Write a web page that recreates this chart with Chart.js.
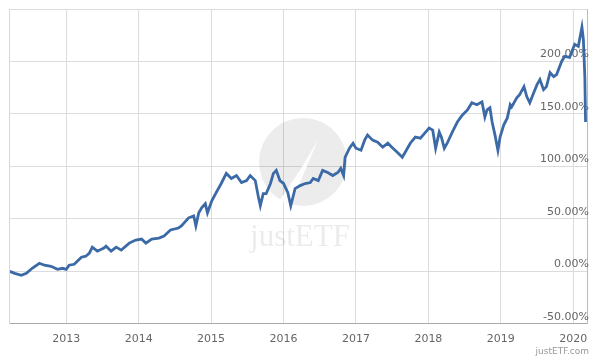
<!DOCTYPE html>
<html>
<head>
<meta charset="utf-8">
<script src="https://cdn.jsdelivr.net/npm/chart.js@4.4.0/dist/chart.umd.min.js"></script>
<style>
    html, body { margin: 0; padding: 0; background: #fff; }
    #wrap { width: 600px; height: 360px; }
</style>
</head>
<body>
<div id="wrap"><canvas id="perfChart" width="600" height="360"></canvas></div>
<script>
// dates as decimal years, returns in %
const dates2012 = [2012.22, 2012.29, 2012.38, 2012.45, 2012.53, 2012.63, 2012.70, 2012.79, 2012.88, 2012.95];
const perf2012  = [0, -1.9, -3.8, -1.9, 2.9, 7.7, 5.8, 4.8, 1.9, 2.9];
const dates2013 = [2013.00, 2013.04, 2013.11, 2013.21, 2013.27, 2013.32, 2013.36, 2013.43, 2013.52, 2013.55, 2013.62, 2013.69, 2013.76, 2013.87, 2013.96];
const perf2013  = [1.9, 5.8, 6.7, 13.5, 14.4, 17.3, 23.1, 19.2, 22.1, 24.0, 19.2, 23.1, 20.2, 26.9, 29.8];
const dates2014 = [2014.04, 2014.10, 2014.18, 2014.28, 2014.35, 2014.44, 2014.55, 2014.59, 2014.69, 2014.76, 2014.79, 2014.83, 2014.87, 2014.92, 2014.95];
const perf2014  = [30.8, 26.9, 30.8, 31.7, 33.7, 39.4, 41.3, 43.3, 51.0, 52.9, 43.3, 55.8, 60.6, 64.4, 55.8];
const dates2015 = [2015.01, 2015.07, 2015.14, 2015.21, 2015.28, 2015.35, 2015.42, 2015.49, 2015.54, 2015.61, 2015.65, 2015.68, 2015.72, 2015.76, 2015.82, 2015.86, 2015.90, 2015.95];
const perf2015  = [67.3, 75.0, 83.7, 93.3, 88.5, 91.3, 84.6, 86.5, 91.3, 86.5, 72.1, 62.5, 74.0, 74.0, 83.7, 93.3, 96.2, 86.5];
const dates2016 = [2016.00, 2016.06, 2016.10, 2016.16, 2016.23, 2016.30, 2016.37, 2016.41, 2016.48, 2016.54, 2016.61, 2016.68, 2016.75, 2016.79, 2016.83, 2016.85, 2016.91, 2016.96];
const perf2016  = [83.7, 75.0, 62.5, 78.8, 81.7, 83.7, 84.6, 88.5, 86.5, 96.2, 94.2, 91.3, 94.2, 98.1, 91.3, 108.7, 117.3, 122.1];
const dates2017 = [2017.00, 2017.07, 2017.12, 2017.16, 2017.23, 2017.30, 2017.37, 2017.44, 2017.51, 2017.57, 2017.64, 2017.68, 2017.75, 2017.82, 2017.89, 2017.95];
const perf2017  = [117.3, 115.4, 125.0, 129.8, 125.0, 123.1, 118.3, 122.1, 117.3, 113.5, 108.7, 113.5, 122.1, 127.9, 126.9, 131.7];
const dates2018 = [2018.01, 2018.06, 2018.10, 2018.15, 2018.18, 2018.22, 2018.26, 2018.33, 2018.40, 2018.47, 2018.54, 2018.60, 2018.67, 2018.74, 2018.78, 2018.81, 2018.85, 2018.88, 2018.92, 2018.96, 2018.99];
const perf2018  = [136.5, 134.6, 117.3, 132.7, 127.9, 117.3, 122.1, 132.7, 142.3, 149.0, 153.8, 160.6, 158.7, 161.5, 147.1, 153.8, 155.8, 142.3, 129.8, 115.4, 127.9];
const dates2019 = [2019.04, 2019.09, 2019.13, 2019.15, 2019.22, 2019.26, 2019.32, 2019.36, 2019.40, 2019.46, 2019.50, 2019.54, 2019.59, 2019.63, 2019.68, 2019.73, 2019.77, 2019.84, 2019.88, 2019.95];
const perf2019  = [139.4, 146.2, 158.7, 156.7, 165.4, 168.3, 176.0, 166.3, 160.6, 171.1, 177.9, 182.7, 173.1, 176.0, 189.4, 185.6, 187.5, 200.0, 204.8, 203.8];
const dates2020 = [2020.02, 2020.07, 2020.12, 2020.14, 2020.16, 2020.17];
const perf2020  = [216.3, 214.4, 232.7, 221.1, 185.6, 142.3];

const yearTicks = [2013, 2014, 2015, 2016, 2017, 2018, 2019, 2020];
const percentTicks = [-50, 0, 50, 100, 150, 200, 250];

const allDates = [].concat(dates2012, dates2013, dates2014, dates2015, dates2016, dates2017, dates2018, dates2019, dates2020);
const allPerf = [].concat(perf2012, perf2013, perf2014, perf2015, perf2016, perf2017, perf2018, perf2019, perf2020);

// watermark + left frame line + credit text
const justEtfDecor = {
    id: 'justEtfDecor',
    beforeDatasetsDraw(chart) {
        const ctx = chart.ctx;
        ctx.save();
        // grey circle with white wedge
        ctx.fillStyle = 'rgba(0,0,0,0.075)';
        ctx.beginPath();
        ctx.arc(303, 162, 44, 0, Math.PI * 2);
        ctx.fill();
        ctx.fillStyle = 'rgba(255,255,255,0.9)';
        ctx.beginPath();
        ctx.moveTo(318, 140);
        ctx.lineTo(290, 206);
        ctx.lineTo(280, 200);
        ctx.lineTo(300, 170);
        ctx.closePath();
        ctx.fill();
        // justETF text
        ctx.fillStyle = 'rgba(0,0,0,0.08)';
        ctx.font = '31px "Liberation Serif", serif';
        ctx.textAlign = 'center';
        ctx.textBaseline = 'alphabetic';
        ctx.fillText('justETF', 300, 246);
        ctx.restore();
    },
    afterDraw(chart) {
        const ctx = chart.ctx;
        const area = chart.chartArea;
        ctx.save();
        ctx.strokeStyle = '#d8d8d8';
        ctx.lineWidth = 1;
        ctx.beginPath();
        ctx.moveTo(area.left + 0.5, area.top);
        ctx.lineTo(area.left + 0.5, area.bottom);
        ctx.stroke();
        ctx.fillStyle = '#999';
        ctx.font = '9px "DejaVu Sans", sans-serif';
        ctx.textAlign = 'right';
        ctx.textBaseline = 'middle';
        ctx.fillText('justETF.com', 589, 352);
        ctx.restore();
    }
};

const ctx = document.getElementById('perfChart').getContext('2d');
new Chart(ctx, {
    type: 'line',
    data: {
        datasets: [{
            label: 'Performance',
            data: allDates.map((d, i) => ({ x: d, y: allPerf[i] })),
            borderColor: '#3c6aa6',
            borderWidth: 2.8,
            pointRadius: 0,
            fill: false,
            tension: 0
        }]
    },
    options: {
        responsive: false,
        animation: false,
        devicePixelRatio: 1,
        layout: { padding: { top: 9, left: 9, right: 9, bottom: 5 } },
        scales: {
            x: {
                type: 'linear',
                min: 2012.21,
                max: 2020.19,
                afterBuildTicks: axis => { axis.ticks = yearTicks.map(v => ({ value: v })); },
                grid: { color: '#dcdcdc', drawTicks: false },
                border: { color: '#aaa' },
                ticks: {
                    color: '#666',
                    padding: 9,
                    maxRotation: 0,
                    font: { family: 'DejaVu Sans', size: 11 },
                    callback: v => String(v)
                }
            },
            y: {
                position: 'right',
                min: -50,
                max: 250,
                afterBuildTicks: axis => { axis.ticks = percentTicks.map(v => ({ value: v })); },
                grid: { color: '#dcdcdc', drawTicks: false },
                border: { color: '#bbb' },
                ticks: {
                    mirror: true,
                    color: '#666',
                    padding: 2,
                    labelOffset: -7,
                    font: { family: 'DejaVu Sans', size: 11 },
                    callback: v => (v === 250 ? '' : v.toFixed(2) + '%')
                }
            }
        },
        plugins: {
            legend: { display: false },
            tooltip: { enabled: false }
        }
    },
    plugins: [justEtfDecor]
});
</script>
</body>
</html>
